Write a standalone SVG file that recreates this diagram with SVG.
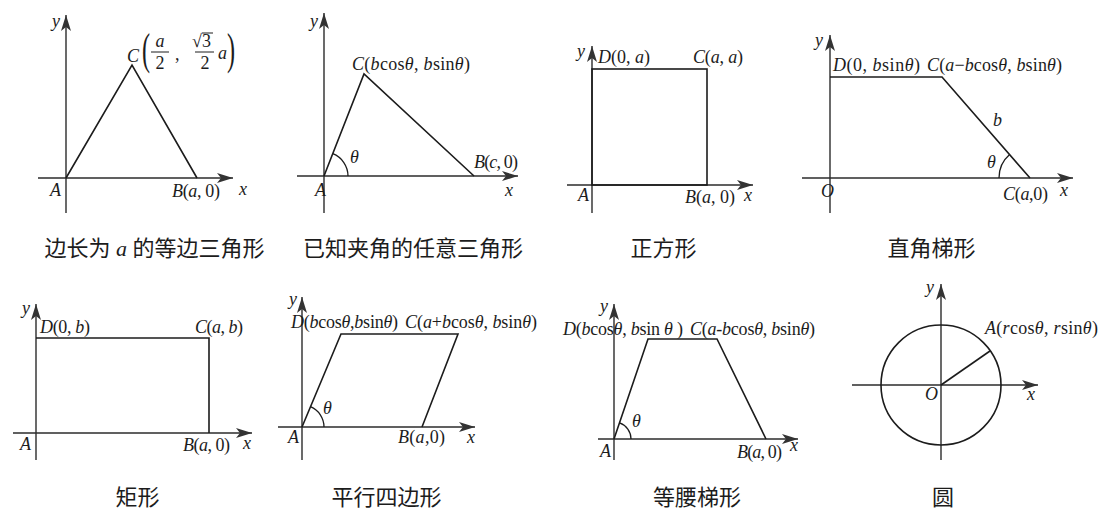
<svg xmlns="http://www.w3.org/2000/svg" width="1117" height="512" viewBox="0 0 1117 512">
<style>
.ax{stroke:#2b2b2b;stroke-width:1.4;fill:none}
.sh{stroke:#1c1c1c;stroke-width:1.6;fill:none;stroke-linejoin:miter}
.arc{stroke:#1c1c1c;stroke-width:1.3;fill:none}
.t{font-family:"Liberation Serif","Times New Roman",serif;font-size:18px;fill:#1c1c1c}
.i{font-style:italic}
.big{font-size:44px}
.cap{font-family:"Noto Sans CJK SC","Noto Sans",sans-serif;font-size:22px;fill:#1c1c1c;text-anchor:middle}
.capi{font-family:"Liberation Serif",serif;font-style:italic}
</style>
<defs>
<marker id="arr" viewBox="0 0 16 10" refX="16" refY="5" markerWidth="16" markerHeight="10" markerUnits="userSpaceOnUse" orient="auto">
<path d="M0,0 L16,5 L0,10 L4,5 Z" fill="#333"/>
</marker>
</defs>
<rect width="1117" height="512" fill="#fff"/>

<g id="connectors">
<path class="ax" d="M66,213 L66,15" marker-end="url(#arr)"/>
<path class="ax" d="M38,178 L233,178" marker-end="url(#arr)"/>
<path class="ax" d="M324,213 L324,13" marker-end="url(#arr)"/>
<path class="ax" d="M297,176 L518,176" marker-end="url(#arr)"/>
<path class="ax" d="M592,213 L592,46" marker-end="url(#arr)"/>
<path class="ax" d="M567,185 L753,185" marker-end="url(#arr)"/>
<path class="ax" d="M830,213 L830,35" marker-end="url(#arr)"/>
<path class="ax" d="M802,178 L1073,178" marker-end="url(#arr)"/>
<path class="ax" d="M36,460 L36,304" marker-end="url(#arr)"/>
<path class="ax" d="M13,433 L252,433" marker-end="url(#arr)"/>
<path class="ax" d="M302,460 L302,297" marker-end="url(#arr)"/>
<path class="ax" d="M278,427 L475,427" marker-end="url(#arr)"/>
<path class="ax" d="M614,460 L614,304" marker-end="url(#arr)"/>
<path class="ax" d="M598,439 L798,439" marker-end="url(#arr)"/>
<path class="ax" d="M941,460 L941,284" marker-end="url(#arr)"/>
<path class="ax" d="M852,385 L1038,385" marker-end="url(#arr)"/>
</g>

<g id="equilateral-triangle">
<path class="sh" d="M66,178 L132,65 L197,178"/>
<text class="t i" x="52" y="27">y</text>
<text class="t i" x="50" y="196">A</text>
<text class="t" x="172" y="197" textLength="48"><tspan class="i">B</tspan>(<tspan class="i">a</tspan>, 0)</text>
<text class="t i" x="239" y="195">x</text>
<text class="t i" x="127" y="62">C</text>
<text class="t big" transform="translate(142,64) scale(0.55,1)">(</text>
<text class="t i" x="160" y="47" text-anchor="middle">a</text>
<line x1="151" y1="52" x2="169" y2="52" stroke="#1c1c1c" stroke-width="1"/>
<text class="t" x="160" y="69" text-anchor="middle">2</text>
<text class="t" x="175" y="60">,</text>
<text class="t" x="192" y="47">√3</text>
<line x1="202" y1="33" x2="213" y2="33" stroke="#1c1c1c" stroke-width="1"/>
<line x1="195" y1="52" x2="214" y2="52" stroke="#1c1c1c" stroke-width="1"/>
<text class="t" x="205" y="69" text-anchor="middle">2</text>
<text class="t i" x="218" y="59">a</text>
<text class="t big" transform="translate(227,64) scale(0.55,1)">)</text>
<text class="cap" x="154.5" y="256">边长为<tspan class="capi"> a </tspan>的等边三角形</text>
</g>

<g id="general-triangle">
<path class="sh" d="M324,176 L364,74 L474,176"/>
<path class="arc" d="M348,176 A24,24 0 0 0 332.8,153.7"/>
<text class="t i" x="310" y="27">y</text>
<text class="t" x="352" y="70" textLength="118"><tspan class="i">C</tspan>(<tspan class="i">b</tspan>cos<tspan class="i">θ</tspan>, <tspan class="i">b</tspan>sin<tspan class="i">θ</tspan>)</text>
<text class="t i" x="350" y="163">θ</text>
<text class="t" x="474" y="168" textLength="44"><tspan class="i">B</tspan>(<tspan class="i">c</tspan>, 0)</text>
<text class="t i" x="315" y="196">A</text>
<text class="t i" x="505" y="196">x</text>
<text class="cap" x="413" y="256">已知夹角的任意三角形</text>
</g>

<g id="square">
<rect class="sh" x="592" y="69" width="115" height="116"/>
<text class="t i" x="577" y="57">y</text>
<text class="t" x="598" y="63" textLength="52"><tspan class="i">D</tspan>(0, <tspan class="i">a</tspan>)</text>
<text class="t" x="693" y="63" textLength="50"><tspan class="i">C</tspan>(<tspan class="i">a</tspan>, <tspan class="i">a</tspan>)</text>
<text class="t i" x="578" y="201">A</text>
<text class="t" x="685" y="203" textLength="50"><tspan class="i">B</tspan>(<tspan class="i">a</tspan>, 0)</text>
<text class="t i" x="744" y="201">x</text>
<text class="cap" x="663.5" y="256">正方形</text>
</g>

<g id="right-trapezoid">
<path class="sh" d="M830,77 L942,77 L1030,178"/>
<path class="arc" d="M999,178 A31,31 0 0 1 1009.6,154.6"/>
<text class="t i" x="815" y="46">y</text>
<text class="t" x="833" y="71" textLength="87"><tspan class="i">D</tspan>(0, <tspan class="i">b</tspan>sin<tspan class="i">θ</tspan>)</text>
<text class="t" x="927" y="71" textLength="135"><tspan class="i">C</tspan>(<tspan class="i">a</tspan>−<tspan class="i">b</tspan>cos<tspan class="i">θ</tspan>, <tspan class="i">b</tspan>sin<tspan class="i">θ</tspan>)</text>
<text class="t i" x="993" y="126">b</text>
<text class="t i" x="987" y="168">θ</text>
<text class="t i" x="821" y="197">O</text>
<text class="t" x="1003" y="200" textLength="45"><tspan class="i">C</tspan>(<tspan class="i">a</tspan>,0)</text>
<text class="t i" x="1060" y="196">x</text>
<text class="cap" x="931.5" y="256">直角梯形</text>
</g>

<g id="rectangle">
<path class="sh" d="M36,338 L209,338 L209,433"/>
<text class="t i" x="22" y="314">y</text>
<text class="t" x="40" y="333" textLength="50"><tspan class="i">D</tspan>(0, <tspan class="i">b</tspan>)</text>
<text class="t" x="195" y="333" textLength="48"><tspan class="i">C</tspan>(<tspan class="i">a</tspan>, <tspan class="i">b</tspan>)</text>
<text class="t i" x="20" y="450">A</text>
<text class="t" x="183" y="451" textLength="47"><tspan class="i">B</tspan>(<tspan class="i">a</tspan>, 0)</text>
<text class="t i" x="243" y="449">x</text>
<text class="cap" x="137.5" y="505">矩形</text>
</g>

<g id="parallelogram">
<path class="sh" d="M302,427 L341,334 L458,334 L422,427"/>
<path class="arc" d="M324,427 A22,22 0 0 0 310.5,406.7"/>
<text class="t i" x="289" y="305">y</text>
<text class="t" x="291" y="328" textLength="107"><tspan class="i">D</tspan>(<tspan class="i">b</tspan>cos<tspan class="i">θ</tspan>,<tspan class="i">b</tspan>sin<tspan class="i">θ</tspan>)</text>
<text class="t" x="405" y="328" textLength="132"><tspan class="i">C</tspan>(<tspan class="i">a</tspan>+<tspan class="i">b</tspan>cos<tspan class="i">θ</tspan>, <tspan class="i">b</tspan>sin<tspan class="i">θ</tspan>)</text>
<text class="t i" x="323" y="414">θ</text>
<text class="t i" x="288" y="443">A</text>
<text class="t" x="398" y="443" textLength="47"><tspan class="i">B</tspan>(<tspan class="i">a</tspan>,0)</text>
<text class="t i" x="467" y="443">x</text>
<text class="cap" x="386.5" y="505">平行四边形</text>
</g>

<g id="isosceles-trapezoid">
<path class="sh" d="M614,439 L648,339 L717,339 L766,439"/>
<path class="arc" d="M631,439 A17,17 0 0 0 619.5,422.9"/>
<text class="t i" x="600" y="312">y</text>
<text class="t" x="563" y="335" textLength="120"><tspan class="i">D</tspan>(<tspan class="i">b</tspan>cos<tspan class="i">θ</tspan>, <tspan class="i">b</tspan>sin <tspan class="i">θ</tspan> )</text>
<text class="t" x="690" y="335" textLength="125"><tspan class="i">C</tspan>(<tspan class="i">a</tspan>-<tspan class="i">b</tspan>cos<tspan class="i">θ</tspan>, <tspan class="i">b</tspan>sin<tspan class="i">θ</tspan>)</text>
<text class="t i" x="632" y="427">θ</text>
<text class="t i" x="600" y="457">A</text>
<text class="t" x="737" y="458" textLength="45"><tspan class="i">B</tspan>(<tspan class="i">a</tspan>, 0)</text>
<text class="t i" x="790" y="451">x</text>
<text class="cap" x="697" y="505">等腰梯形</text>
</g>

<g id="circle">
<circle class="sh" cx="941" cy="385" r="60"/>
<path class="sh" d="M941,385 L990,351"/>
<text class="t i" x="926" y="293">y</text>
<text class="t" x="985" y="334" textLength="113"><tspan class="i">A</tspan>(<tspan class="i">r</tspan>cos<tspan class="i">θ</tspan>, <tspan class="i">r</tspan>sin<tspan class="i">θ</tspan>)</text>
<text class="t i" x="925" y="400">O</text>
<text class="t i" x="1027" y="400">x</text>
<text class="cap" x="943" y="505">圆</text>
</g>
</svg>
